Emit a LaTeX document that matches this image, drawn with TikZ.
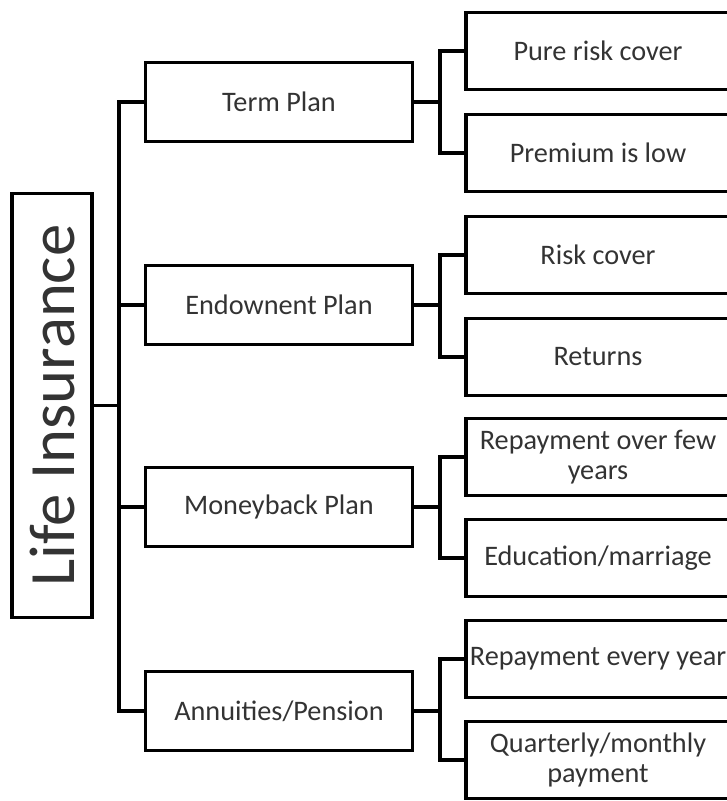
\documentclass[tikz,border=0pt]{standalone}
\usepackage{fontspec}
\setmainfont{Carlito}
\begin{document}
\begin{tikzpicture}[x=0.75pt,y=-0.75pt,line width=2.6pt,
  box/.style={draw=black, inner sep=0pt, align=center, text=black!80,
    font=\fontsize{21.2}{23}\selectfont},
  planbox/.style={box, minimum width=200pt, minimum height=59pt},
  leafbox/.style={box, minimum width=198pt, minimum height=58pt}]
\useasboundingbox (0,0) rectangle (727,801);
\clip (0,0) rectangle (727,801);
% root
\node[box, rotate=90, minimum width=318pt, minimum height=60pt,
  font=\fontsize{48.5}{52}\selectfont] (life) at (52,405.5) {Life Insurance};
% plans
\node[planbox] (term)  at (279,102) {Term Plan};
\node[planbox] (endow) at (279,305) {Endownent Plan};
\node[planbox] (money) at (279,507) {Moneyback Plan};
\node[planbox] (annu)  at (279,711) {Annuities/Pension};
% leaves
\node[leafbox] (pure)  at (598,51)  {Pure risk cover};
\node[leafbox] (prem)  at (598,153) {Premium is low};
\node[leafbox] (risk)  at (598,255) {Risk cover};
\node[leafbox] (ret)   at (598,357) {Returns};
\node[leafbox] (repay) at (598,457) {Repayment over few\\years};
\node[leafbox] (edu)   at (598,558) {Education/marriage};
\node[leafbox] (every) at (598,659) {Repayment every year};
\node[leafbox] (quart) at (598,760) {Quarterly/monthly\\payment};
% trunk
\coordinate (tk) at (119,405.5);
\draw (life.south) -- (tk);
\foreach \p in {term,endow,money,annu}
  \draw (\p.west) -| (tk);
% brackets
\foreach \p/\a/\b in {term/pure/prem,endow/risk/ret,money/repay/edu,annu/every/quart}{
  \draw (\p.east) -- ++(26,0) |- (\a.west);
  \draw (\p.east) -- ++(26,0) |- (\b.west);
}
\end{tikzpicture}
\end{document}
